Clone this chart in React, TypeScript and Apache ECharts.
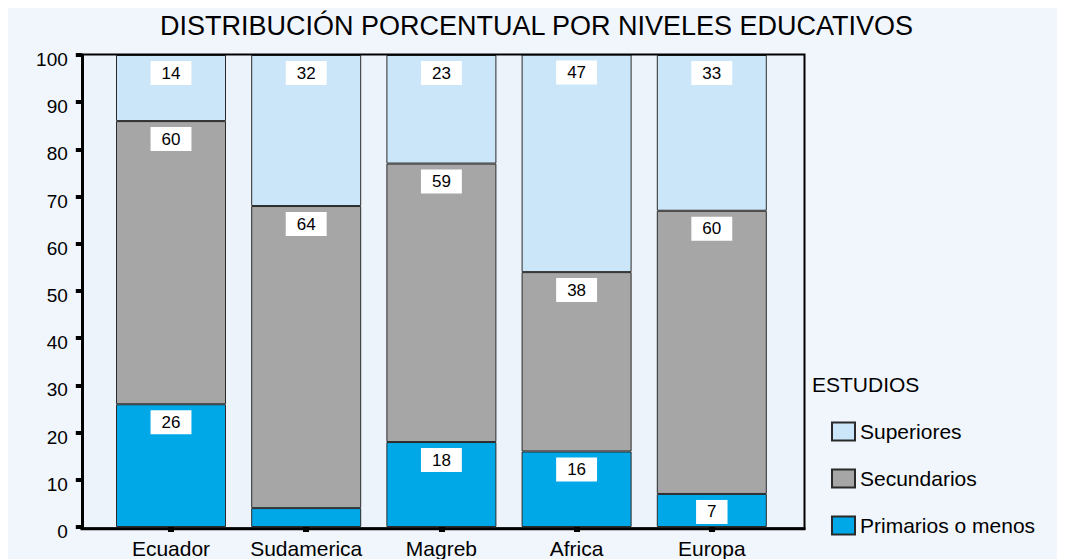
import React, { useEffect, useRef } from "react";
import * as echarts from "echarts";

const TITLE = "DISTRIBUCIÓN PORCENTUAL POR NIVELES EDUCATIVOS";
const LEGEND_TITLE = "ESTUDIOS";
const categories = ["Ecuador", "Sudamerica", "Magreb", "Africa", "Europa"];
const primarios = [26, 4, 18, 16, 7];
const secundarios = [60, 64, 59, 38, 60];
const superiores = [14, 32, 23, 47, 33];
const hiddenLabels: Record<string, number[]> = { "Primarios o menos": [1] };

const FONT = "'Liberation Sans', Arial, Helvetica, sans-serif";

export default function App() {
  const ref = useRef<HTMLDivElement>(null);
  useEffect(() => {
    document.documentElement.style.overflow = "hidden";
    document.body.style.overflow = "hidden";
    const chart = echarts.init(ref.current!, undefined, { renderer: "svg" });

    const mk = (name: string, values: number[], color: string) => ({
      name,
      type: "bar",
      stack: "total",
      barWidth: 110,
      data: values.map((v, i) =>
        (hiddenLabels[name] || []).includes(i) ? { value: v, label: { show: false } } : v
      ),
      itemStyle: { color, borderColor: "#2a2a2a", borderWidth: 1 },
      label: {
        show: true,
        position: "insideTop",
        distance: 6,
        color: "#000",
        fontFamily: FONT,
        fontSize: 17,
        lineHeight: 18,
        backgroundColor: "#ffffff",
        padding: [3, 11, 3, 11],
      },
      z: 2,
    });

    chart.setOption({
      animation: false,
      backgroundColor: "#f1f6fd",
      textStyle: { fontFamily: FONT },
      title: {
        text: TITLE,
        left: "center",
        top: 4,
        padding: 0,
        textStyle: { fontFamily: FONT, fontSize: 27, fontWeight: "normal", color: "#000" },
      },
      legend: {
        orient: "vertical",
        left: 823,
        top: 413,
        padding: 0,
        itemWidth: 23,
        itemHeight: 18,
        itemGap: 26,
        icon: "rect",
        data: ["Superiores", "Secundarios", "Primarios o menos"],
        textStyle: { fontFamily: FONT, fontSize: 21, color: "#000" },
      },
      grid: { left: 95.4, top: 47, width: 676, height: 473.5 },
      xAxis: {
        type: "category",
        data: categories,
        axisLine: { show: false },
        axisTick: { show: true, alignWithLabel: true, length: 5, lineStyle: { color: "#000", width: 6 } },
        axisLabel: { interval: 0, margin: 11, fontFamily: FONT, fontSize: 21, color: "#000" },
      },
      yAxis: {
        type: "value",
        min: 0,
        max: 100,
        interval: 10,
        offset: 21.6,
        axisLine: { show: true, lineStyle: { color: "#000", width: 3 } },
        axisTick: { show: true, length: 6, lineStyle: { color: "#000", width: 4 } },
        axisLabel: { margin: 14, fontFamily: FONT, fontSize: 19, color: "#000", verticalAlign: "top", lineHeight: 19, padding: [-5, 0, 0, 0] },
        splitLine: { show: false },
      },
      graphic: [
        {
          type: "rect",
          z: 0,
          silent: true,
          shape: { x: 74, y: 47, width: 723, height: 474 },
          style: { fill: "#edf3fb" },
        },
        {
          type: "rect",
          z: 100,
          silent: true,
          shape: { x: 74, y: 46.5, width: 722.5, height: 474 },
          style: { fill: "none", stroke: "#000", lineWidth: 2 },
        },
        {
          type: "line",
          z: 100,
          silent: true,
          shape: { x1: 72.5, y1: 520.8, x2: 797.5, y2: 520.8 },
          style: { stroke: "#000", lineWidth: 3 },
        },
        {
          type: "text",
          z: 100,
          left: 804,
          top: 366,
          style: { text: LEGEND_TITLE, fontFamily: FONT, fontSize: 21, fill: "#000" },
        },
      ],
      series: [
        mk("Primarios o menos", primarios, "#00a8e8"),
        mk("Secundarios", secundarios, "#a6a6a6"),
        mk("Superiores", superiores, "#cbe6f8"),
      ],
    });
    return () => chart.dispose();
  }, []);
  return <div ref={ref} style={{ width: 1057, height: 551 }} />;
}
